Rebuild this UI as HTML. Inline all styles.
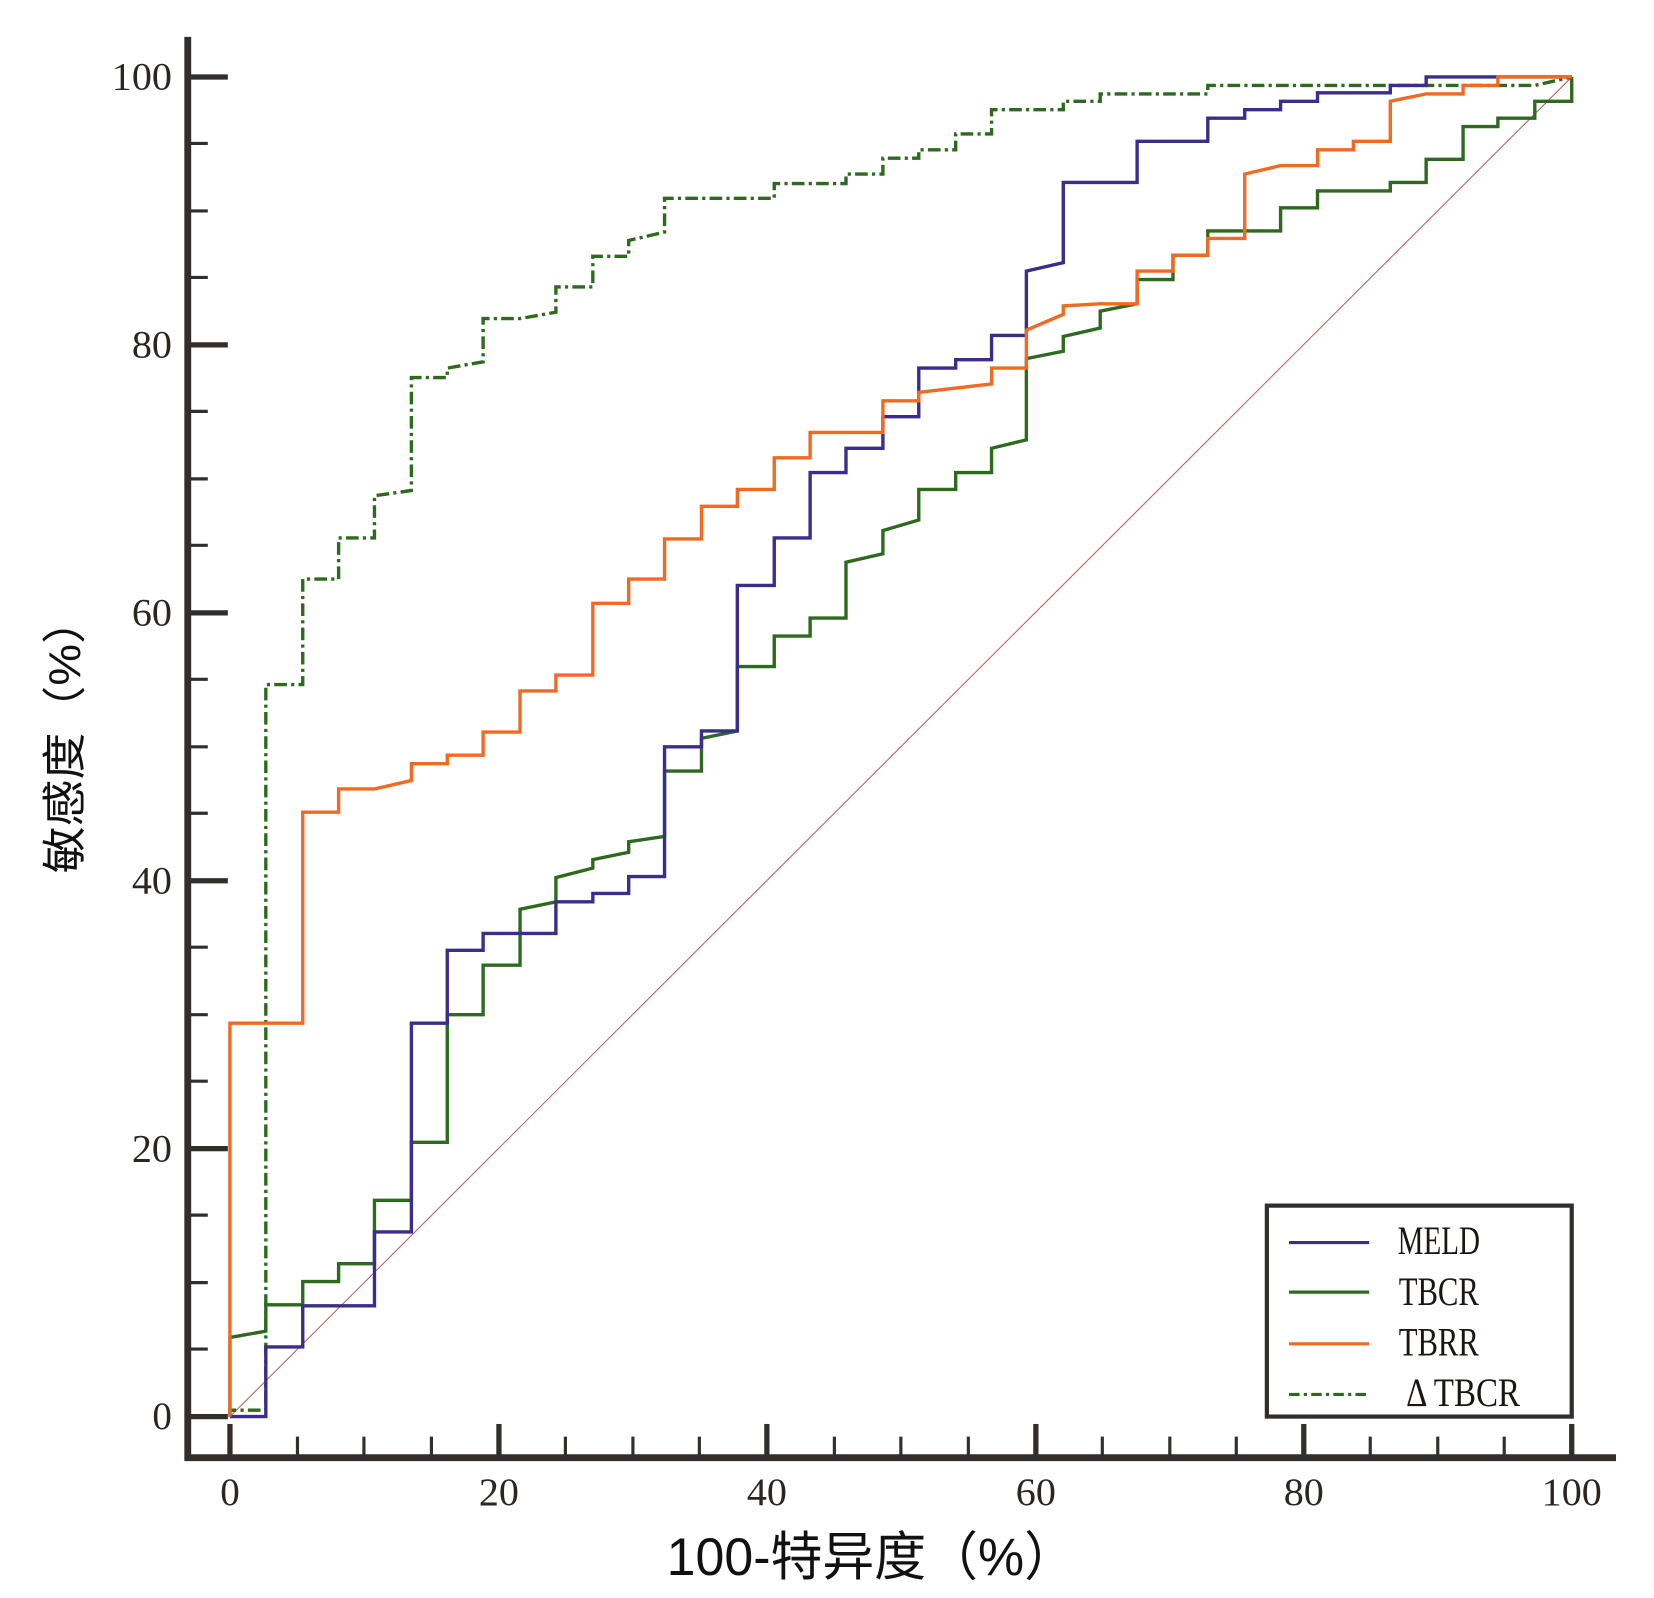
<!DOCTYPE html>
<html><head><meta charset="utf-8"><style>html,body{margin:0;padding:0;background:#fff}svg{display:block}</style></head>
<body>
<svg width="1654" height="1598" viewBox="0 0 1568 1515" preserveAspectRatio="none" xmlns="http://www.w3.org/2000/svg">
<rect width="1568" height="1515" fill="#fff"/>
<line x1="218" y1="1343" x2="1490" y2="73" stroke="#c0504d" stroke-width="0.9"/>
<g fill="none" stroke-width="3.2" stroke-linejoin="miter">
<polyline stroke="#2d6a1e" stroke-dasharray="12,4,3,4" points="218,1343 218,1337 252,1337 252,649 287,649 287,549 321,549 321,510 355,510 355,470 390,465 390,358 424,358 424,349 458,343 458,302 493,302 527,296 527,272 562,272 562,243 596,243 596,228 630,220 630,188 734,188 734,174 802,174 802,165 837,165 837,150 871,150 871,142 906,142 906,127 940,127 940,104 1008,104 1008,96 1043,96 1043,89 1145,89 1145,81 1455,81 1490,73"/>
<polyline stroke="#2d6a1e" points="218,1343 218,1268 252,1262 252,1237 287,1237 287,1215 321,1215 321,1198 355,1198 355,1138 390,1138 390,1083 424,1083 424,962 458,962 458,915 493,915 493,862 527,855 527,832 562,823 562,815 596,808 596,798 630,793 630,731 665,731 665,700 699,693 699,632 734,632 734,603 768,603 768,586 802,586 802,533 837,525 837,503 871,493 871,464 906,464 906,448 940,448 940,425 973,417 973,340 1008,333 1008,319 1043,311 1043,295 1078,288 1078,265 1112,265 1112,242 1145,242 1145,219 1214,219 1214,197 1249,197 1249,181 1318,181 1318,173 1352,173 1352,151 1387,151 1387,120 1420,120 1420,112 1455,112 1455,96 1490,96 1490,73"/>
<polyline stroke="#3a2d8c" points="218,1343 252,1343 252,1277 287,1277 287,1238 355,1238 355,1168 390,1168 390,970 424,970 424,901 458,901 458,885 527,885 527,855 562,855 562,847 596,847 596,831 630,831 630,708 665,708 665,693 699,693 699,555 734,555 734,510 768,510 768,448 802,448 802,425 837,425 837,395 871,395 871,349 906,349 906,341 940,341 940,318 973,318 973,257 1008,249 1008,173 1078,173 1078,134 1145,134 1145,112 1180,112 1180,104 1214,104 1214,96 1249,96 1249,88 1318,88 1318,81 1352,81 1352,73 1490,73"/>
<polyline stroke="#f26a22" points="218,1343 218,970 287,970 287,770 321,770 321,748 355,748 390,740 390,724 424,724 424,716 458,716 458,694 493,694 493,655 527,655 527,640 562,640 562,572 596,572 596,549 630,549 630,511 665,511 665,480 699,480 699,464 734,464 734,434 768,434 768,410 837,410 837,380 871,380 871,372 940,364 940,349 973,349 973,313 1008,298 1008,290 1043,288 1078,288 1078,257 1112,257 1112,242 1145,242 1145,226 1180,226 1180,165 1214,157 1249,157 1249,142 1283,142 1283,134 1318,134 1318,96 1352,89 1387,89 1387,81 1420,81 1420,73 1490,73"/>
</g>
<g stroke="#322e2b">
<line x1="178" y1="35" x2="178" y2="1385" stroke-width="6.5"/>
<line x1="175" y1="1382" x2="1532" y2="1382" stroke-width="6.5"/>
<g stroke-width="5">
<line x1="178" y1="73" x2="216" y2="73"/><line x1="178" y1="327" x2="216" y2="327"/><line x1="178" y1="581" x2="216" y2="581"/><line x1="178" y1="835" x2="216" y2="835"/><line x1="178" y1="1089" x2="216" y2="1089"/><line x1="178" y1="1343" x2="216" y2="1343"/>
<line x1="218" y1="1382" x2="218" y2="1350"/><line x1="473" y1="1382" x2="473" y2="1350"/><line x1="727" y1="1382" x2="727" y2="1350"/><line x1="982" y1="1382" x2="982" y2="1350"/><line x1="1236" y1="1382" x2="1236" y2="1350"/><line x1="1490" y1="1382" x2="1490" y2="1350"/>
</g>
<g stroke-width="3">
<line x1="178" y1="136" x2="197" y2="136"/><line x1="178" y1="200" x2="197" y2="200"/><line x1="178" y1="263" x2="197" y2="263"/>
<line x1="178" y1="390" x2="197" y2="390"/><line x1="178" y1="454" x2="197" y2="454"/><line x1="178" y1="517" x2="197" y2="517"/>
<line x1="178" y1="644" x2="197" y2="644"/><line x1="178" y1="708" x2="197" y2="708"/><line x1="178" y1="771" x2="197" y2="771"/>
<line x1="178" y1="898" x2="197" y2="898"/><line x1="178" y1="962" x2="197" y2="962"/><line x1="178" y1="1025" x2="197" y2="1025"/>
<line x1="178" y1="1152" x2="197" y2="1152"/><line x1="178" y1="1216" x2="197" y2="1216"/><line x1="178" y1="1279" x2="197" y2="1279"/>
<line x1="282" y1="1382" x2="282" y2="1362"/><line x1="345" y1="1382" x2="345" y2="1362"/><line x1="409" y1="1382" x2="409" y2="1362"/>
<line x1="536" y1="1382" x2="536" y2="1362"/><line x1="600" y1="1382" x2="600" y2="1362"/><line x1="663" y1="1382" x2="663" y2="1362"/>
<line x1="791" y1="1382" x2="791" y2="1362"/><line x1="854" y1="1382" x2="854" y2="1362"/><line x1="918" y1="1382" x2="918" y2="1362"/>
<line x1="1045" y1="1382" x2="1045" y2="1362"/><line x1="1109" y1="1382" x2="1109" y2="1362"/><line x1="1172" y1="1382" x2="1172" y2="1362"/>
<line x1="1299" y1="1382" x2="1299" y2="1362"/><line x1="1363" y1="1382" x2="1363" y2="1362"/><line x1="1426" y1="1382" x2="1426" y2="1362"/>
</g>
</g>
<g font-family="Liberation Serif, serif" font-size="37" fill="#2a2520">
<g text-anchor="end">
<text x="163" y="85" textLength="57" lengthAdjust="spacingAndGlyphs">100</text><text x="163" y="339" textLength="38" lengthAdjust="spacingAndGlyphs">80</text><text x="163" y="593" textLength="38" lengthAdjust="spacingAndGlyphs">60</text><text x="163" y="847" textLength="38" lengthAdjust="spacingAndGlyphs">40</text><text x="163" y="1101" textLength="38" lengthAdjust="spacingAndGlyphs">20</text><text x="163" y="1355">0</text>
</g>
<g text-anchor="middle">
<text x="218" y="1427">0</text><text x="473" y="1427" textLength="38" lengthAdjust="spacingAndGlyphs">20</text><text x="727" y="1427" textLength="38" lengthAdjust="spacingAndGlyphs">40</text><text x="982" y="1427" textLength="38" lengthAdjust="spacingAndGlyphs">60</text><text x="1236" y="1427" textLength="38" lengthAdjust="spacingAndGlyphs">80</text><text x="1490" y="1427" textLength="57" lengthAdjust="spacingAndGlyphs">100</text>
</g>
</g>
<text x="632" y="1493" font-family="Liberation Sans, 'Noto Sans CJK SC', sans-serif" font-size="50" fill="#111" textLength="388" lengthAdjust="spacingAndGlyphs">100-特异度（%）</text>
<text transform="translate(76,697) rotate(-90)" text-anchor="middle" font-family="Liberation Sans, 'Noto Sans CJK SC', sans-serif" font-size="42" fill="#111" textLength="262" lengthAdjust="spacingAndGlyphs">敏感度（%）</text>
<rect x="1201" y="1143" width="289" height="200" fill="#fff" stroke="#322e2b" stroke-width="4"/>
<g stroke-width="3">
<line x1="1222" y1="1178" x2="1298" y2="1178" stroke="#3a2d8c"/>
<line x1="1222" y1="1225" x2="1298" y2="1225" stroke="#2d6a1e"/>
<line x1="1222" y1="1274" x2="1298" y2="1274" stroke="#f26a22"/>
<line x1="1222" y1="1322" x2="1298" y2="1322" stroke="#2d6a1e" stroke-dasharray="10,4,3,4"/>
</g>
<g font-family="Liberation Serif, serif" font-size="38" fill="#1a1510">
<text x="1325" y="1189" textLength="78" lengthAdjust="spacingAndGlyphs">MELD</text>
<text x="1326" y="1237" textLength="76" lengthAdjust="spacingAndGlyphs">TBCR</text>
<text x="1326" y="1285" textLength="76" lengthAdjust="spacingAndGlyphs">TBRR</text>
<text x="1333" y="1333" textLength="108" lengthAdjust="spacingAndGlyphs">Δ TBCR</text>
</g>
</svg>
</body></html>
